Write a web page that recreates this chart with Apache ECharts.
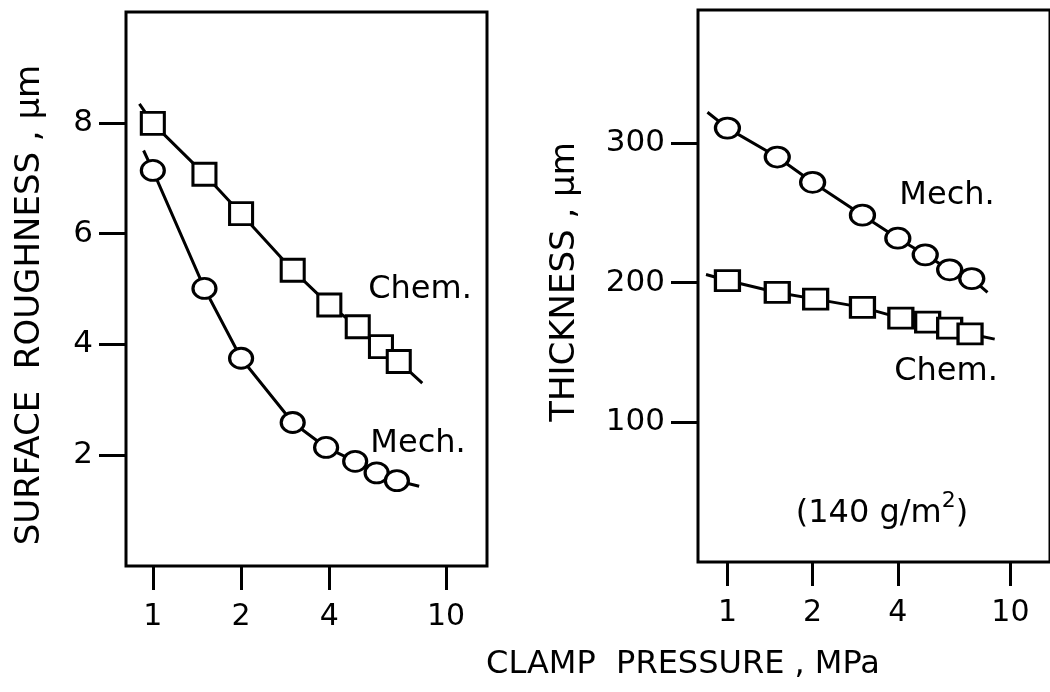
<!DOCTYPE html>
<html>
<head>
<meta charset="utf-8">
<script src="https://cdn.jsdelivr.net/npm/echarts@6/dist/echarts.min.js"></script>
<style>
html, body { margin: 0; padding: 0; background: #fff; }
#chart { width: 1050px; height: 692px; }
</style>
</head>
<body>
<div id="chart"></div>
<script>
// left panel: surface roughness (um) vs clamp pressure (MPa)
const roughChemP = [1, 1.5, 2, 3, 4, 5, 6, 6.9];
const roughChemY = [7.99, 7.07, 6.36, 5.34, 4.71, 4.32, 3.96, 3.69];
const roughChemEnds = [[0.9, 8.34], [8.3, 3.3]];
const roughMechP = [1, 1.5, 2, 3, 3.9, 4.9, 5.8, 6.8];
const roughMechY = [7.14, 5.01, 3.75, 2.59, 2.14, 1.89, 1.68, 1.54];
const roughMechEnds = [[0.93, 7.5], [8.1, 1.44]];

// right panel: thickness (um) vs clamp pressure (MPa)
const thickMechP = [1, 1.5, 2, 3, 4, 5, 6.1, 7.3];
const thickMechY = [310.5, 289.8, 271.7, 248.2, 231.7, 219.8, 209.1, 202.8];
const thickMechEnds = [[0.85, 321.8], [8.3, 192.9]];
const thickChemP = [1, 1.5, 2.05, 3, 4.1, 5.1, 6.1, 7.2];
const thickChemY = [201.4, 192.9, 188.1, 182.2, 174.5, 171.7, 167.4, 163.2];
const thickChemEnds = [[0.84, 205.7], [8.8, 159.5]];

const xTicks = [1, 2, 4, 10];
const roughTicks = [2, 4, 6, 8];
const thickTicks = [100, 200, 300];

const FONT = 'DejaVu Sans';
var chartDom = document.getElementById('chart');
var myChart = echarts.init(chartDom);

function lineData(px, py, ends) {
    const pts = px.map((p, i) => [p, py[i]]);
    return [{value: ends[0], symbol: 'none'}, ...pts, {value: ends[1], symbol: 'none'}];
}

function xAxisOpt(gridIndex, min) {
    return {
        type: 'log',
        gridIndex: gridIndex,
        min: min,
        max: 13.8,
        axisLine: {show: false},
        splitLine: {show: false},
        axisTick: {show: true, customValues: xTicks, length: 24, lineStyle: {color: '#000', width: 3}},
        axisLabel: {customValues: xTicks, margin: 36, color: '#000', fontFamily: FONT, fontSize: 30}
    };
}

function yAxisOpt(gridIndex, max, ticks) {
    return {
        type: 'value',
        gridIndex: gridIndex,
        min: 0,
        max: max,
        axisLine: {show: false},
        splitLine: {show: false},
        axisTick: {show: true, customValues: ticks, length: 27, lineStyle: {color: '#000', width: 3}},
        axisLabel: {customValues: ticks, margin: 33, color: '#000', fontFamily: FONT, fontSize: 31}
    };
}

function seriesOpt(idx, data, symbol, size) {
    return {
        type: 'line',
        xAxisIndex: idx,
        yAxisIndex: idx,
        data: data,
        symbol: symbol,
        symbolSize: size,
        showAllSymbol: true,
        lineStyle: {color: '#000', width: 3},
        itemStyle: {color: '#fff', borderColor: '#000', borderWidth: 3},
        emphasis: {disabled: true}
    };
}

function label(text, x, y, size, rot) {
    return {
        type: 'text',
        x: x,
        y: y,
        rotation: rot || 0,
        style: {text: text, fill: '#000', font: size + 'px "' + FONT + '"', align: 'center', verticalAlign: 'middle'}
    };
}

var option = {
    animation: false,
    backgroundColor: '#fff',
    grid: [
        {left: 126, top: 12, width: 361, height: 554, show: true, borderColor: '#000', borderWidth: 3},
        {left: 698, top: 10, width: 359, height: 552, show: true, borderColor: '#000', borderWidth: 3}
    ],
    xAxis: [xAxisOpt(0, 0.81), xAxisOpt(1, 0.787)],
    yAxis: [yAxisOpt(0, 10, roughTicks), yAxisOpt(1, 395, thickTicks)],
    series: [
        seriesOpt(0, lineData(roughChemP, roughChemY, roughChemEnds), 'rect', [23, 22]),
        seriesOpt(0, lineData(roughMechP, roughMechY, roughMechEnds), 'circle', [23, 20]),
        seriesOpt(1, lineData(thickMechP, thickMechY, thickMechEnds), 'circle', [24, 20]),
        seriesOpt(1, lineData(thickChemP, thickChemY, thickChemEnds), 'rect', [24, 20])
    ],
    graphic: [
        label('SURFACE  ROUGHNESS , μm', 30, 305, 34, Math.PI / 2),
        label('THICKNESS , μm', 565, 282, 34, Math.PI / 2),
        label('CLAMP  PRESSURE , MPa', 683, 665, 32),
        label('Chem.', 420, 290, 32),
        label('Mech.', 418, 444, 32),
        label('Mech.', 947, 196, 32),
        label('Chem.', 946, 372, 32),
        {
            type: 'text',
            x: 882,
            y: 510,
            style: {
                text: '{a|(140 g/m}{s|2}{a|)}',
                align: 'center',
                verticalAlign: 'middle',
                rich: {
                    a: {fontFamily: FONT, fontSize: 32, color: '#000', lineHeight: 40, verticalAlign: 'bottom'},
                    s: {fontFamily: FONT, fontSize: 22, color: '#000', lineHeight: 40, verticalAlign: 'top'}
                }
            }
        }
    ]
};
myChart.setOption(option);
</script>
</body>
</html>
